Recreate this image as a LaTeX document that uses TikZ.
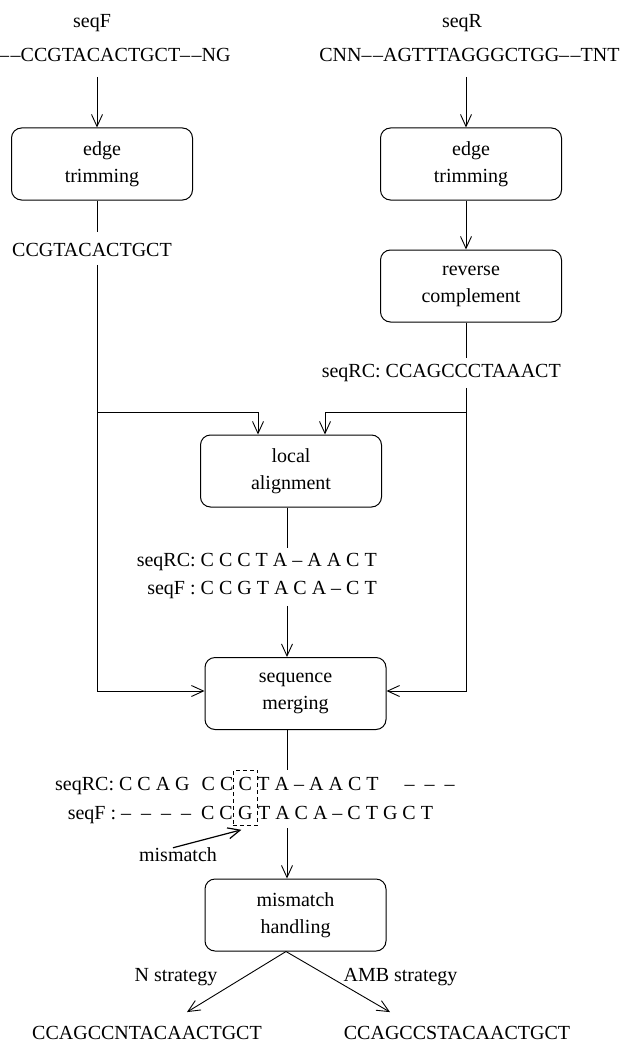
\documentclass[tikz,border=0pt]{standalone}
\usepackage{fontspec}
\setmainfont{Liberation Serif}
\usetikzlibrary{positioning,arrows.meta,calc,fit}
\newcommand{\gapdash}{\textendash\kern1.5pt\textendash}
\tikzset{
  flow/.style={-{Straight Barb[length=12pt,width=11pt]},line width=0.9pt},
  plain/.style={line width=0.9pt},
  stepbox/.style={draw,line width=1pt,rounded corners=10pt,
    minimum width=181pt,minimum height=72pt,inner sep=0pt,
    align=center,font=\fontsize{20}{27}\selectfont},
  seqtext/.style={inner sep=0pt,font=\fontsize{20}{28}\selectfont},
  mmframe/.style={draw,line width=0.8pt,dash pattern=on 4pt off 3pt,
    inner xsep=5pt,inner ysep=6pt}
}

\begin{document}
\begin{tikzpicture}[x=1pt,y=-1pt]
  \useasboundingbox (0,0) rectangle (626,1043);
  \coordinate (lc) at (97,0);
  \coordinate (rc) at (466,0);
  \coordinate (mc) at (287,0);
  \coordinate (split) at (0,412);
  \coordinate (merge) at (0,691);

  % forward read
  \node[seqtext] (fname) at (92,23) {seqF};
  \node[seqtext,anchor=west] (fraw) at (-1,55)
    {\gapdash CCGTACACTGCT\gapdash NG};
  \node[stepbox] (ftrim) at (102,164) {edge\\trimming};
  \node[seqtext] (fclean) at (92,250) {CCGTACACTGCT};

  % reverse read
  \node[seqtext] (rname) at (462,23) {seqR};
  \node[seqtext] (rraw) at (469.5,55)
    {CNN\gapdash AGTTTAGGGCTGG\gapdash TNT};
  \node[stepbox] (rtrim) at (471,164) {edge\\trimming};
  \node[stepbox] (rcomp) at (471,286) {reverse\\complement};
  \node[seqtext,anchor=east] (rclean) at (561,373) {seqRC: CCAGCCCTAAACT};

  % alignment and merging
  \node[stepbox] (lalign) at (291,471) {local\\alignment};
  \node[seqtext,align=right,anchor=east] (laln) at (377,576)
    {seqRC: C C C T A -- A A C T\\seqF : C C G T A C A -- C T};
  \node[stepbox] (smerge) at (295.5,693.5) {sequence\\merging};

  \node[seqtext,anchor=base west] (mrcA) at (55,790) {seqRC: C C A G\hspace{12pt}C C};
  \node[seqtext,anchor=base west] (mrcB) at ([xshift=5pt]mrcA.base east) {C};
  \node[seqtext,anchor=base west] (mrcC) at ([xshift=5pt]mrcB.base east)
    {T A -- A A C T\hspace{26pt}-- \ -- \ --};
  \node[seqtext,anchor=base] (mfB) at (mrcB.base |- 0,819) {G};
  \node[seqtext,anchor=base east] (mfA) at ([xshift=-5pt]mfB.base west)
    {seqF : --\hspace{10pt}--\hspace{10pt}--\hspace{10pt}--\hspace{10pt}C C};
  \node[seqtext,anchor=base west] (mfC) at ([xshift=5pt]mfB.base east)
    {T A C A -- C T G C T};
  \node[mmframe,fit=(mrcB)(mfB)] (mmbox) {};
  \node[seqtext] (mmlabel) at (178,855) {mismatch};

  \node[stepbox] (hmis) at (295.5,915) {mismatch\\handling};
  \node[seqtext] (nlab) at (176,977) {N strategy};
  \node[seqtext] (alab) at (400.5,977) {AMB strategy};
  \node[seqtext] (nout) at (147,1033) {CCAGCCNTACAACTGCT};
  \node[seqtext] (aout) at (457,1033) {CCAGCCSTACAACTGCT};

  % connectors
  \draw[flow,shorten <=15pt] (lc |- fraw.south) -- (lc |- ftrim.north);
  \draw[flow,shorten <=15pt] (rc |- rraw.south) -- (rc |- rtrim.north);
  \draw[flow] (rc |- rtrim.south) -- (rc |- rcomp.north);
  \draw[plain,shorten >=11pt] (lc |- ftrim.south) -- (lc |- fclean.north);
  \draw[plain,shorten >=6pt] (rc |- rcomp.south) -- (rc |- rclean.north);
  \draw[flow,shorten <=8pt] (lc |- fclean.south) -- (lc |- merge) -- (smerge.west |- merge);
  \draw[flow,shorten <=6pt] (rc |- rclean.south) -- (rc |- merge) -- (smerge.east |- merge);
  \draw[flow] (lc |- split) -- ([xshift=-33pt]lalign.north |- split)
    -- ([xshift=-33pt]lalign.north);
  \draw[flow] (rc |- split) -- ([xshift=34pt]lalign.north |- split)
    -- ([xshift=34pt]lalign.north);
  \draw[plain,shorten >=5pt] (mc |- lalign.south) -- (mc |- laln.north);
  \draw[flow,shorten <=7pt] (mc |- laln.south) -- (mc |- smerge.north);
  \draw[plain,shorten >=7pt] (mc |- smerge.south) -- (mc |- mrcA.north);
  \draw[flow,shorten <=5pt] (mc |- mfA.south) -- (mc |- hmis.north);
  \draw[flow,line width=1.2pt] ([xshift=-5pt]mmlabel.north)
    -- ([xshift=-4pt,yshift=-4pt]mmbox.south);
  \draw[flow] ([xshift=-9.5pt]hmis.south) -- ($(nout.north)+(40,-14)$);
  \draw[flow] ([xshift=-9.5pt]hmis.south) -- ($(aout.north)+(-67,-14)$);
\end{tikzpicture}
\end{document}
